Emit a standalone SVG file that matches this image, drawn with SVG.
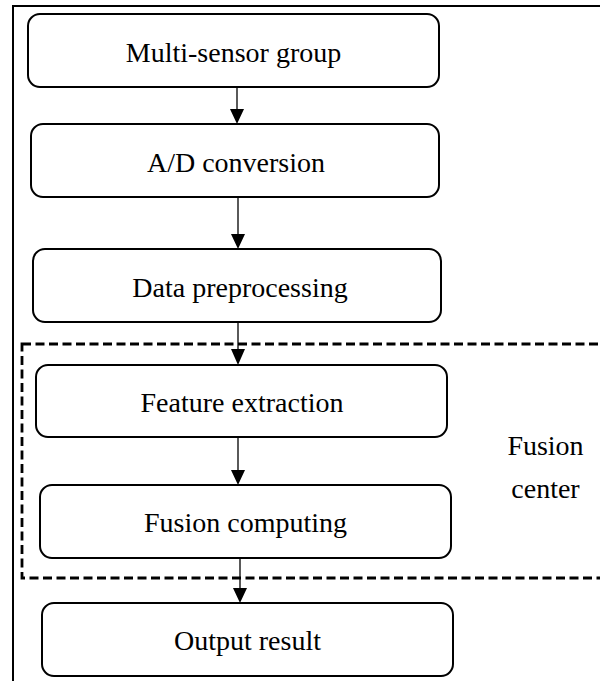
<svg xmlns="http://www.w3.org/2000/svg" width="600" height="681" viewBox="0 0 600 681">
<style>
.box{fill:#fff;stroke:#000;stroke-width:2}
.lbl{font-family:'Liberation Serif','Times New Roman',serif;font-size:28px;fill:#000;text-anchor:middle}
.conn{stroke:#000;stroke-width:1.3;fill:none}
.head{fill:#000}
</style>
<rect x="0" y="0" width="600" height="681" fill="#fff"/>
<rect x="13" y="6" width="600" height="690" fill="none" stroke="#000" stroke-width="2"/>
<rect id="fusion-center" x="22" y="344" width="600" height="234" fill="none" stroke="#000" stroke-width="2.8" stroke-dasharray="9 4.5"/>
<g id="n1"><rect class="box" x="28" y="14" width="411" height="73" rx="12"/><text class="lbl" x="233.5" y="62">Multi-sensor group</text></g>
<g id="n2"><rect class="box" x="31" y="124" width="408" height="73" rx="12"/><text class="lbl" x="236" y="172">A/D conversion</text></g>
<g id="n3"><rect class="box" x="33" y="249" width="408" height="73" rx="12"/><text class="lbl" x="240" y="297">Data preprocessing</text></g>
<g id="n4"><rect class="box" x="36" y="365" width="411" height="72" rx="12"/><text class="lbl" x="242" y="412">Feature extraction</text></g>
<g id="n5"><rect class="box" x="40" y="485" width="411" height="73" rx="12"/><text class="lbl" x="245.5" y="532">Fusion computing</text></g>
<g id="n6"><rect class="box" x="42" y="603" width="411" height="73" rx="12"/><text class="lbl" x="247.5" y="650">Output result</text></g>
<g id="label"><text class="lbl" x="545.5" y="455">Fusion</text><text class="lbl" x="545.5" y="498">center</text></g>
<g id="connectors">
<line class="conn" x1="237" y1="87" x2="237" y2="112"/><polygon class="head" points="230,109 244,109 237,124"/>
<line class="conn" x1="238" y1="197" x2="238" y2="237"/><polygon class="head" points="231,234 245,234 238,249"/>
<line class="conn" x1="238" y1="322" x2="238" y2="352"/><polygon class="head" points="231,349 245,349 238,365"/>
<line class="conn" x1="238" y1="437" x2="238" y2="473"/><polygon class="head" points="231,470 245,470 238,485"/>
<line class="conn" x1="240" y1="558" x2="240" y2="591"/><polygon class="head" points="233,588 247,588 240,603"/>
</g>
</svg>
